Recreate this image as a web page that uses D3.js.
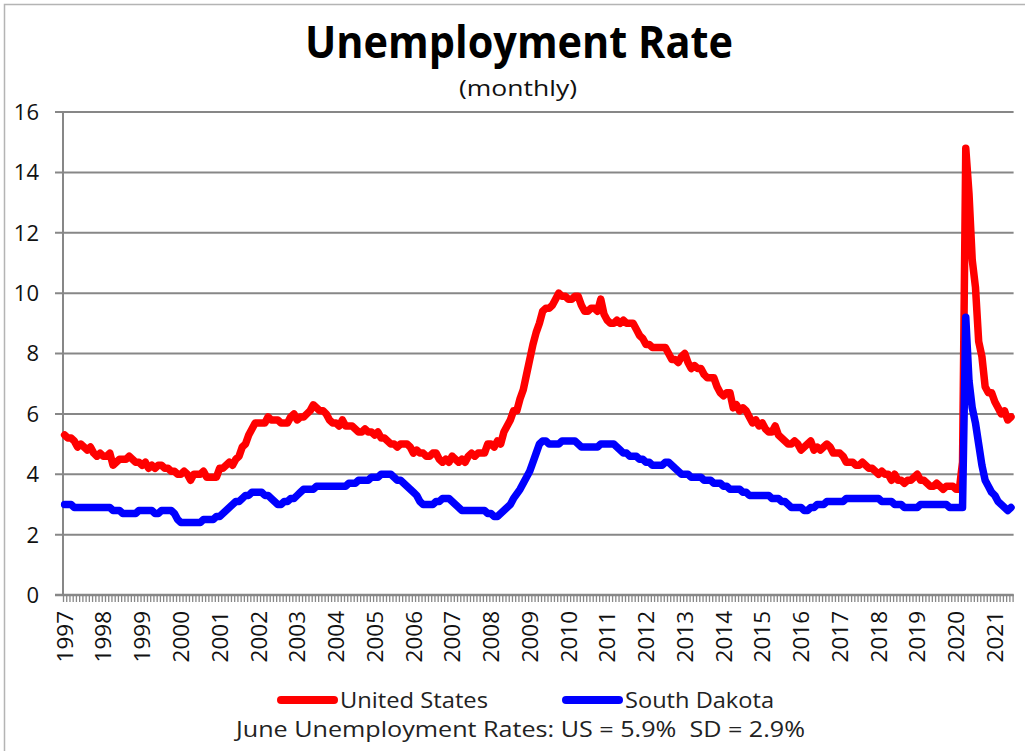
<!DOCTYPE html>
<html>
<head>
<meta charset="utf-8">
<script src="https://cdn.jsdelivr.net/npm/d3@7"></script>
<style>
  body { margin: 0; background: #fff; }
  svg { display: block; font-family: "Open Sans", "Noto Sans", sans-serif; }
</style>
</head>
<body>
<div id="chart"></div>
<script>
// monthly data, Jan 1997 .. Jun 2021
const startYear = 1997;
const yearLabels = d3.range(1997, 2022).map(String);
const yTicks = [0, 2, 4, 6, 8, 10, 12, 14, 16];

const usRate = [
  5.3, 5.2, 5.2, 5.1, 4.9, 5.0, 4.9, 4.8, 4.9, 4.7, 4.6, 4.7, // 1997
  4.6, 4.6, 4.7, 4.3, 4.4, 4.5, 4.5, 4.5, 4.6, 4.5, 4.4, 4.4, // 1998
  4.3, 4.4, 4.2, 4.3, 4.2, 4.3, 4.3, 4.2, 4.2, 4.1, 4.1, 4.0, // 1999
  4.0, 4.1, 4.0, 3.8, 4.0, 4.0, 4.0, 4.1, 3.9, 3.9, 3.9, 3.9, // 2000
  4.2, 4.2, 4.3, 4.4, 4.3, 4.5, 4.6, 4.9, 5.0, 5.3, 5.5, 5.7, // 2001
  5.7, 5.7, 5.7, 5.9, 5.8, 5.8, 5.8, 5.7, 5.7, 5.7, 5.9, 6.0, // 2002
  5.8, 5.9, 5.9, 6.0, 6.1, 6.3, 6.2, 6.1, 6.1, 6.0, 5.8, 5.7, // 2003
  5.7, 5.6, 5.8, 5.6, 5.6, 5.6, 5.5, 5.4, 5.4, 5.5, 5.4, 5.4, // 2004
  5.3, 5.4, 5.2, 5.2, 5.1, 5.0, 5.0, 4.9, 5.0, 5.0, 5.0, 4.9, // 2005
  4.7, 4.8, 4.7, 4.7, 4.6, 4.6, 4.7, 4.7, 4.5, 4.4, 4.5, 4.4, // 2006
  4.6, 4.5, 4.4, 4.5, 4.4, 4.6, 4.7, 4.6, 4.7, 4.7, 4.7, 5.0, // 2007
  5.0, 4.9, 5.1, 5.0, 5.4, 5.6, 5.8, 6.1, 6.1, 6.5, 6.8, 7.3, // 2008
  7.8, 8.3, 8.7, 9.0, 9.4, 9.5, 9.5, 9.6, 9.8, 10.0, 9.9, 9.9, // 2009
  9.8, 9.8, 9.9, 9.9, 9.6, 9.4, 9.4, 9.5, 9.5, 9.4, 9.8, 9.3, // 2010
  9.1, 9.0, 9.0, 9.1, 9.0, 9.1, 9.0, 9.0, 9.0, 8.8, 8.6, 8.5, // 2011
  8.3, 8.3, 8.2, 8.2, 8.2, 8.2, 8.2, 8.0, 7.8, 7.8, 7.7, 7.9, // 2012
  8.0, 7.7, 7.5, 7.6, 7.5, 7.5, 7.3, 7.2, 7.2, 7.2, 6.9, 6.7, // 2013
  6.6, 6.7, 6.7, 6.2, 6.3, 6.1, 6.2, 6.1, 5.9, 5.7, 5.8, 5.6, // 2014
  5.7, 5.5, 5.4, 5.4, 5.6, 5.3, 5.2, 5.1, 5.0, 5.0, 5.1, 5.0, // 2015
  4.8, 4.9, 5.0, 5.1, 4.8, 4.9, 4.8, 4.9, 5.0, 4.9, 4.7, 4.7, // 2016
  4.7, 4.6, 4.4, 4.4, 4.4, 4.3, 4.3, 4.4, 4.3, 4.2, 4.2, 4.1, // 2017
  4.0, 4.1, 4.0, 4.0, 3.8, 4.0, 3.8, 3.8, 3.7, 3.8, 3.8, 3.9, // 2018
  4.0, 3.8, 3.8, 3.7, 3.6, 3.6, 3.7, 3.6, 3.5, 3.6, 3.6, 3.6, // 2019
  3.5, 3.5, 4.4, 14.8, 13.3, 11.1, 10.2, 8.4, 7.9, 6.9, 6.7, 6.7, // 2020
  6.4, 6.2, 6.0, 6.1, 5.8, 5.9 // 2021
];

const sdRate = [
  3.0, 3.0, 3.0, 2.9, 2.9, 2.9, 2.9, 2.9, 2.9, 2.9, 2.9, 2.9, // 1997
  2.9, 2.9, 2.9, 2.8, 2.8, 2.8, 2.7, 2.7, 2.7, 2.7, 2.7, 2.8, // 1998
  2.8, 2.8, 2.8, 2.8, 2.7, 2.7, 2.8, 2.8, 2.8, 2.8, 2.7, 2.5, // 1999
  2.4, 2.4, 2.4, 2.4, 2.4, 2.4, 2.4, 2.5, 2.5, 2.5, 2.5, 2.6, // 2000
  2.6, 2.7, 2.8, 2.9, 3.0, 3.1, 3.1, 3.2, 3.3, 3.3, 3.4, 3.4, // 2001
  3.4, 3.4, 3.3, 3.3, 3.2, 3.1, 3.0, 3.0, 3.1, 3.1, 3.2, 3.2, // 2002
  3.3, 3.4, 3.5, 3.5, 3.5, 3.5, 3.6, 3.6, 3.6, 3.6, 3.6, 3.6, // 2003
  3.6, 3.6, 3.6, 3.6, 3.7, 3.7, 3.7, 3.8, 3.8, 3.8, 3.8, 3.9, // 2004
  3.9, 3.9, 4.0, 4.0, 4.0, 4.0, 3.9, 3.8, 3.8, 3.7, 3.6, 3.5, // 2005
  3.4, 3.3, 3.1, 3.0, 3.0, 3.0, 3.0, 3.1, 3.1, 3.2, 3.2, 3.2, // 2006
  3.1, 3.0, 2.9, 2.8, 2.8, 2.8, 2.8, 2.8, 2.8, 2.8, 2.8, 2.7, // 2007
  2.7, 2.6, 2.6, 2.7, 2.8, 2.9, 3.0, 3.2, 3.35, 3.5, 3.7, 3.9, // 2008
  4.1, 4.4, 4.7, 5.0, 5.1, 5.1, 5.0, 5.0, 5.0, 5.0, 5.1, 5.1, // 2009
  5.1, 5.1, 5.1, 5.0, 4.9, 4.9, 4.9, 4.9, 4.9, 4.9, 5.0, 5.0, // 2010
  5.0, 5.0, 5.0, 4.9, 4.8, 4.7, 4.7, 4.6, 4.6, 4.6, 4.5, 4.5, // 2011
  4.4, 4.4, 4.3, 4.3, 4.3, 4.3, 4.4, 4.4, 4.3, 4.2, 4.1, 4.0, // 2012
  4.0, 4.0, 3.9, 3.9, 3.9, 3.9, 3.8, 3.8, 3.8, 3.7, 3.7, 3.7, // 2013
  3.6, 3.6, 3.5, 3.5, 3.5, 3.5, 3.4, 3.4, 3.3, 3.3, 3.3, 3.3, // 2014
  3.3, 3.3, 3.3, 3.2, 3.2, 3.2, 3.1, 3.1, 3.0, 2.9, 2.9, 2.9, // 2015
  2.9, 2.8, 2.8, 2.9, 2.9, 3.0, 3.0, 3.0, 3.1, 3.1, 3.1, 3.1, // 2016
  3.1, 3.1, 3.2, 3.2, 3.2, 3.2, 3.2, 3.2, 3.2, 3.2, 3.2, 3.2, // 2017
  3.2, 3.1, 3.1, 3.1, 3.1, 3.0, 3.0, 3.0, 2.9, 2.9, 2.9, 2.9, // 2018
  2.9, 3.0, 3.0, 3.0, 3.0, 3.0, 3.0, 3.0, 3.0, 3.0, 2.9, 2.9, // 2019
  2.9, 2.9, 2.9, 9.2, 7.1, 6.2, 5.7, 5.0, 4.3, 3.8, 3.6, 3.4, // 2020
  3.3, 3.1, 3.0, 2.9, 2.8, 2.9 // 2021
];

const width = 1025, height = 751;
const plotLeft = 63, plotRight = 1012.6, plotTop = 112, plotBottom = 595;
const gridColor = '#878787';

var svg = d3.select('#chart').append('svg')
  .attr('width', width)
  .attr('height', height);

// chart frame
svg.append('rect')
  .attr('x', 4.5).attr('y', 4.5)
  .attr('width', 1100).attr('height', 1000)
  .attr('fill', 'none')
  .attr('stroke', '#b4b4b4')
  .attr('stroke-width', 1.5);

var n = usRate.length;
var xBand = d3.scaleBand().domain(d3.range(n)).range([plotLeft, plotRight]);
var xEdge = d3.scaleLinear().domain([0, n]).range([plotLeft, plotRight]);
var y = d3.scaleLinear().domain([0, 16]).range([plotBottom, plotTop]);
function xMid(i) { return xBand(i) + xBand.bandwidth() / 2; }

// gridlines + y labels
svg.append('g')
  .selectAll('line')
  .data(yTicks)
  .enter().append('line')
  .attr('x1', plotLeft - 8).attr('x2', plotRight + 1)
  .attr('y1', d => y(d)).attr('y2', d => y(d))
  .attr('stroke', gridColor)
  .attr('stroke-width', 2);

svg.append('g')
  .selectAll('text')
  .data(yTicks)
  .enter().append('text')
  .attr('x', 39)
  .attr('y', d => y(d))
  .attr('dy', '0.36em')
  .attr('text-anchor', 'end')
  .attr('font-size', 22)
  .attr('fill', '#111')
  .text(d => d);

// y axis line
svg.append('line')
  .attr('x1', plotLeft).attr('x2', plotLeft)
  .attr('y1', plotTop).attr('y2', plotBottom)
  .attr('stroke', gridColor).attr('stroke-width', 2);

// x axis with a tick between every month
var xAxis = d3.axisBottom(xEdge)
  .tickValues(d3.range(n + 1))
  .tickSize(7)
  .tickFormat('');
var gx = svg.append('g')
  .attr('transform', 'translate(0,' + plotBottom + ')')
  .call(xAxis);
gx.select('.domain').remove();
gx.selectAll('.tick line').attr('stroke', gridColor).attr('stroke-width', 1.3);
svg.append('line')
  .attr('x1', plotLeft - 8).attr('x2', plotRight + 1)
  .attr('y1', plotBottom).attr('y2', plotBottom)
  .attr('stroke', gridColor).attr('stroke-width', 2.5);

// year labels, rotated
svg.append('g')
  .selectAll('text')
  .data(yearLabels)
  .enter().append('text')
  .attr('transform', (d, i) => 'translate(' + xMid(i * 12) + ',611) rotate(-90)')
  .attr('dy', '0.36em')
  .attr('text-anchor', 'end')
  .attr('font-size', 22.5)
  .attr('fill', '#111')
  .text(d => d);

// series lines
var line = d3.line()
  .x((d, i) => xMid(i))
  .y(d => y(d));

var series = [
  { name: 'United States', values: usRate, color: '#ff0000' },
  { name: 'South Dakota', values: sdRate, color: '#0000ff' }
];

svg.append('g')
  .selectAll('path')
  .data(series)
  .enter().append('path')
  .attr('d', d => line(d.values))
  .attr('fill', 'none')
  .attr('stroke', d => d.color)
  .attr('stroke-width', 7.5)
  .attr('stroke-linejoin', 'round')
  .attr('stroke-linecap', 'round');

// title
svg.append('text')
  .attr('x', 519).attr('y', 58)
  .attr('text-anchor', 'middle')
  .attr('font-size', 45)
  .attr('font-weight', 'bold')
  .attr('textLength', 428)
  .attr('lengthAdjust', 'spacingAndGlyphs')
  .attr('fill', '#000')
  .text('Unemployment Rate');

svg.append('text')
  .attr('x', 518).attr('y', 96)
  .attr('text-anchor', 'middle')
  .attr('font-size', 22)
  .attr('textLength', 118)
  .attr('lengthAdjust', 'spacingAndGlyphs')
  .attr('fill', '#111')
  .text('(monthly)');

// legend
var legendX = [278, 563];
var legendW = [148, 149];
var lg = svg.append('g')
  .selectAll('g')
  .data(series)
  .enter().append('g')
  .attr('transform', (d, i) => 'translate(' + legendX[i] + ',700)');
lg.append('line')
  .attr('x1', 3).attr('x2', 56)
  .attr('stroke', d => d.color)
  .attr('stroke-width', 8)
  .attr('stroke-linecap', 'round');
lg.append('text')
  .attr('x', 62).attr('y', 7.5)
  .attr('font-size', 22.5)
  .attr('textLength', (d, i) => legendW[i])
  .attr('lengthAdjust', 'spacingAndGlyphs')
  .attr('fill', '#222')
  .text(d => d.name);

svg.append('text')
  .attr('x', 236).attr('y', 737)
  .attr('font-size', 22.5)
  .attr('textLength', 569)
  .attr('lengthAdjust', 'spacingAndGlyphs')
  .attr('fill', '#222')
  .style('white-space', 'pre')
  .text('June Unemployment Rates: US = 5.9%  SD = 2.9%');
</script>
</body>
</html>
